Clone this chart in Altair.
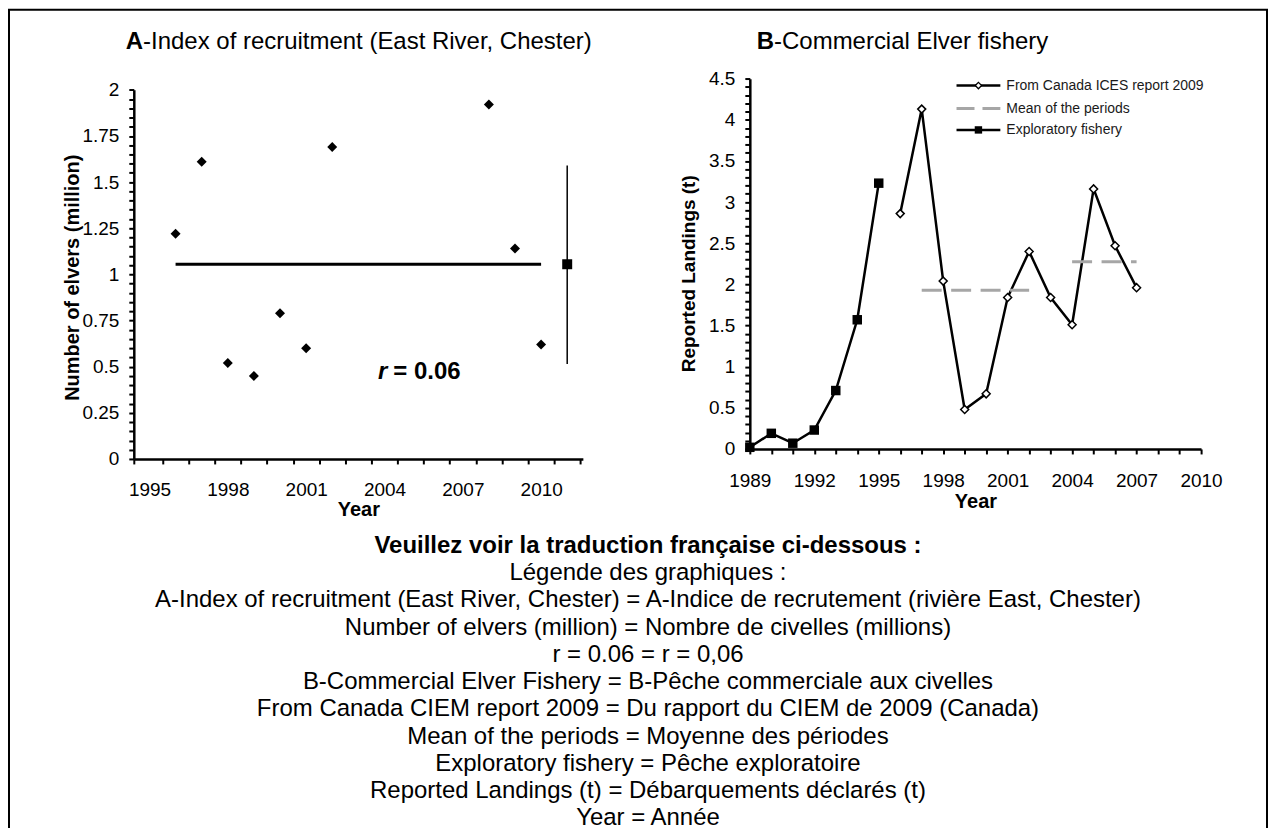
import json
import altair as alt
import pandas as pd

FONT = "Liberation Sans"

# ---------------- data ----------------
# Panel A - Index of recruitment (East River, Chester)
a_years = [1996, 1997, 1998, 1999, 2000, 2001, 2002, 2008, 2009, 2010]
a_elvers = [1.22, 1.61, 0.52, 0.45, 0.79, 0.60, 1.69, 1.92, 1.14, 0.62]
a_mean_from = [1996]
a_mean_to = [2010]
a_mean_value = [1.055]
a_summary_year = [2011]
a_summary_mean = [1.055]
a_summary_low = [0.515]
a_summary_high = [1.59]
a_r_symbol = ["r"]
a_r_value = ["= 0.06"]

# Panel B - Commercial Elver fishery
b_expl_years = [1989, 1990, 1991, 1992, 1993, 1994, 1995]
b_expl_landings = [0.02, 0.19, 0.07, 0.23, 0.71, 1.57, 3.23]
b_ices_years = [1996, 1997, 1998, 1999, 2000, 2001, 2002, 2003, 2004, 2005, 2006, 2007]
b_ices_landings = [2.86, 4.13, 2.04, 0.48, 0.67, 1.84, 2.40, 1.84, 1.51, 3.16, 2.47, 1.96]
b_period_from = [1997, 2004]
b_period_to = [2002, 2007]
b_period_mean = [1.93, 2.275]
legend_labels = ["From Canada ICES report 2009", "Mean of the periods", "Exploratory fishery"]

# tick labels
a_x_labels = [1995, 1998, 2001, 2004, 2007, 2010]
a_y_labels = [0, 0.25, 0.5, 0.75, 1, 1.25, 1.5, 1.75, 2]
b_x_labels = [1989, 1992, 1995, 1998, 2001, 2004, 2007, 2010]
b_y_labels = [0, 0.5, 1, 1.5, 2, 2.5, 3, 3.5, 4, 4.5]

title_a_letter, title_a_rest = "A", "-Index of recruitment (East River, Chester)"
title_b_letter, title_b_rest = "B", "-Commercial Elver fishery"

notes = [
    "Veuillez voir la traduction française ci-dessous :",
    "Légende des graphiques :",
    "A-Index of recruitment (East River, Chester) = A-Indice de recrutement (rivière East, Chester)",
    "Number of elvers (million) = Nombre de civelles (millions)",
    "r = 0.06 = r = 0,06",
    "B-Commercial Elver Fishery = B-Pêche commerciale aux civelles",
    "From Canada CIEM report 2009 = Du rapport du CIEM de 2009 (Canada)",
    "Mean of the periods = Moyenne des périodes",
    "Exploratory fishery = Pêche exploratoire",
    "Reported Landings (t) = Débarquements déclarés (t)",
    "Year = Année",
]

# ---------------- layout (page pixels -> view pixels) ----------------
OX, OY = 9, 9
H = 830
W = 1260


def vx(px):
    return px - OX


def vy(py):
    return py - OY


common_axis = dict(
    domainColor="black", domainWidth=2.5, tickColor="black", tickWidth=2, tickSize=5,
    labelFont=FONT, labelColor="black", labelFontSize=19, labelOverlap=False,
    labelFlush=False, labelBound=False, titleFont=FONT, titleColor="black",
    titleFontWeight="bold", grid=False,
)

# ---------- Panel A ----------
A_X0, A_YR = 134, 26.15
a_xscale = alt.Scale(domain=[1994.4, 2011.6], range=[vx(A_X0), vx(A_X0 + 17.2 * A_YR)], nice=False, zero=False)
a_yscale = alt.Scale(domain=[0, 2], range=[vy(459), vy(89.3)], nice=False, zero=False)
a_x_ticks = [1994.4] + [1995.5 + k for k in range(17)]
a_y_ticks = [round(0.05 * k, 2) for k in range(41)]

a_x = alt.X(
    "x:Q", scale=a_xscale,
    axis=alt.Axis(
        orient="bottom", offset=vy(459) - H, values=a_x_ticks,
        labelExpr=f"indexof({json.dumps(a_x_labels)}, datum.value - 0.5) >= 0 ? format(datum.value - 0.5, 'd') : ''",
        labelOffset=-13, labelBaseline="middle", labelPadding=26,
        title="Year", titleFontSize=20, titleY=51, titleBaseline="middle", **common_axis,
    ),
)
a_y = alt.Y(
    "y:Q", scale=a_yscale,
    axis=alt.Axis(
        orient="left", offset=-vx(A_X0), values=a_y_ticks,
        labelExpr=f"indexof({json.dumps(a_y_labels)}, datum.value) >= 0 ? format(datum.value, '~g') : ''",
        labelPadding=10, title="Number of elvers (million)", titleFontSize=20,
        titleX=73 - A_X0, titleY=vy(277), titleAlign="center", titleBaseline="middle", **common_axis,
    ),
)

a_pts = alt.Chart(pd.DataFrame({"x": a_years, "y": a_elvers})).mark_point(
    shape="diamond", filled=True, size=100, color="black", opacity=1
).encode(x=a_x, y=a_y)
a_mean = alt.Chart(pd.DataFrame({"x": a_mean_from, "x2": a_mean_to, "y": a_mean_value})).mark_rule(
    color="black", strokeWidth=3
).encode(x=a_x, x2="x2:Q", y=a_y)
a_err = alt.Chart(pd.DataFrame({"x": a_summary_year, "y": a_summary_low, "y2": a_summary_high})).mark_rule(
    color="black", strokeWidth=1.5
).encode(x=a_x, y=a_y, y2="y2:Q")
a_sq = alt.Chart(pd.DataFrame({"x": a_summary_year, "y": a_summary_mean})).mark_point(
    shape="square", filled=True, size=100, color="black", opacity=1
).encode(x=a_x, y=a_y)
a_r1 = alt.Chart(pd.DataFrame({"x": [2004.11], "y": [0.47], "t": a_r_symbol})).mark_text(
    font=FONT, fontSize=24, fontStyle="italic", fontWeight="bold", align="right", baseline="middle", color="black"
).encode(x=a_x, y=a_y, text="t:N")
a_r2 = alt.Chart(pd.DataFrame({"x": [2004.34], "y": [0.47], "t": a_r_value})).mark_text(
    font=FONT, fontSize=24, fontWeight="bold", align="left", baseline="middle", color="black"
).encode(x=a_x, y=a_y, text="t:N")
panel_a = alt.layer(a_mean, a_err, a_pts, a_sq, a_r1, a_r2)

# ---------- Panel B ----------
B_X0, B_YR = 751, 21.52
b_xscale = alt.Scale(domain=[1989, 2010], range=[vx(B_X0), vx(B_X0 + 21 * B_YR)], nice=False, zero=False)
b_yscale = alt.Scale(domain=[0, 4.5], range=[vy(449), vy(449 - 4.5 * 82.42)], nice=False, zero=False)
b_x_ticks = list(range(1989, 2011))
b_y_ticks = [round(0.1 * k, 1) for k in range(46)]

b_x = alt.X(
    "x:Q", scale=b_xscale,
    axis=alt.Axis(
        orient="bottom", offset=vy(449) - H, values=b_x_ticks,
        labelExpr=f"indexof({json.dumps(b_x_labels)}, datum.value) >= 0 ? format(datum.value, 'd') : ''",
        labelBaseline="middle", labelPadding=27,
        title="Year", titleFontSize=20, titleY=53, titleBaseline="middle", **common_axis,
    ),
)
b_y = alt.Y(
    "y:Q", scale=b_yscale,
    axis=alt.Axis(
        orient="left", offset=-vx(B_X0), values=b_y_ticks,
        labelExpr=f"indexof({json.dumps(b_y_labels)}, datum.value) >= 0 ? format(datum.value, '~g') : ''",
        labelPadding=10, title="Reported Landings (t)", titleFontSize=19,
        titleX=690 - B_X0, titleY=vy(273), titleAlign="center", titleBaseline="middle", **common_axis,
    ),
)

expl_df = pd.DataFrame({"x": b_expl_years, "y": b_expl_landings})
ices_df = pd.DataFrame({"x": b_ices_years, "y": b_ices_landings})
b_expl_line = alt.Chart(expl_df).mark_line(color="black", strokeWidth=2.5).encode(x=b_x, y=b_y)
b_expl_pts = alt.Chart(expl_df).mark_point(shape="square", filled=True, size=90, color="black", opacity=1).encode(x=b_x, y=b_y)
b_ices_line = alt.Chart(ices_df).mark_line(color="black", strokeWidth=2.5).encode(x=b_x, y=b_y)
b_ices_pts = alt.Chart(ices_df).mark_point(
    shape="diamond", filled=True, fill="white", stroke="black", strokeWidth=1.5, size=64, opacity=1
).encode(x=b_x, y=b_y)
b_means = alt.Chart(pd.DataFrame({"x": b_period_from, "x2": b_period_to, "y": b_period_mean})).mark_rule(
    color="#a6a6a6", strokeWidth=3, strokeDash=[20, 9.5]
).encode(x=b_x, x2="x2:Q", y=b_y)

# legend (placed in panel B's data space)
LX1, LX2, LXM, LXT = 1998.62, 2000.66, 1999.64, 2000.94
LROWS = [4.416, 4.137, 3.877]
leg_solid = alt.Chart(pd.DataFrame({"x": [LX1, LX1], "x2": [LX2, LX2], "y": [LROWS[0], LROWS[2]]})).mark_rule(
    color="black", strokeWidth=2.5
).encode(x=b_x, x2="x2:Q", y=b_y)
leg_dash = alt.Chart(pd.DataFrame({"x": [LX1], "x2": [LX2], "y": [LROWS[1]]})).mark_rule(
    color="#a6a6a6", strokeWidth=3, strokeDash=[18, 8]
).encode(x=b_x, x2="x2:Q", y=b_y)
leg_diamond = alt.Chart(pd.DataFrame({"x": [LXM], "y": [LROWS[0]]})).mark_point(
    shape="diamond", filled=True, fill="white", stroke="black", strokeWidth=1.3, size=40, opacity=1
).encode(x=b_x, y=b_y)
leg_square = alt.Chart(pd.DataFrame({"x": [LXM], "y": [LROWS[2]]})).mark_point(
    shape="square", filled=True, size=55, color="black", opacity=1
).encode(x=b_x, y=b_y)
leg_text = alt.Chart(pd.DataFrame({"x": [LXT] * 3, "y": LROWS, "t": legend_labels})).mark_text(
    font=FONT, fontSize=14, align="left", baseline="middle", color="#1a1a1a"
).encode(x=b_x, y=b_y, text="t:N")

panel_b = alt.layer(
    b_expl_line, b_ices_line, b_means, b_expl_pts, b_ices_pts,
    leg_solid, leg_dash, leg_diamond, leg_square, leg_text,
)

# ---------- Panel titles ----------
one = alt.Data(values=[{}])


def title_part(text, x, bold, align):
    return alt.Chart(one).mark_text(
        text=text, font=FONT, fontSize=24, fontWeight="bold" if bold else "normal",
        align=align, baseline="alphabetic", color="black",
    ).encode(x=alt.value(vx(x)), y=alt.value(vy(48.5)))


titles = alt.layer(
    title_part(title_a_letter, 143.3, True, "right"),
    title_part(title_a_rest, 143.3, False, "left"),
    title_part(title_b_letter, 775.3, True, "right"),
    title_part(title_b_rest, 775.3, False, "left"),
)

# ---------- Notes below ----------
notes_df = pd.DataFrame({"i": list(range(len(notes))), "t": notes})
n_y = alt.Y("i:Q", scale=alt.Scale(domain=[0, len(notes) - 1], range=[vy(546), vy(819)], nice=False, zero=False), axis=None)
notes_bold = alt.Chart(notes_df.iloc[:1]).mark_text(
    font=FONT, fontSize=24, fontWeight="bold", align="center", baseline="middle", color="black"
).encode(x=alt.value(vx(649)), y=n_y, text="t:N")
notes_reg = alt.Chart(notes_df.iloc[1:]).mark_text(
    font=FONT, fontSize=24, align="center", baseline="middle", color="black"
).encode(x=alt.value(vx(649)), y=n_y, text="t:N")
notes_layer = alt.layer(notes_bold, notes_reg)

chart = (
    alt.layer(panel_a, panel_b, titles, notes_layer)
    .resolve_scale(x="independent", y="independent")
    .properties(width=W, height=H, padding=1, autosize=alt.AutoSizeParams(type="none"), background="white")
    .configure_view(stroke="black", strokeWidth=2)
)

chart.save("out.html", embed_options={"renderer": "svg", "actions": False})
